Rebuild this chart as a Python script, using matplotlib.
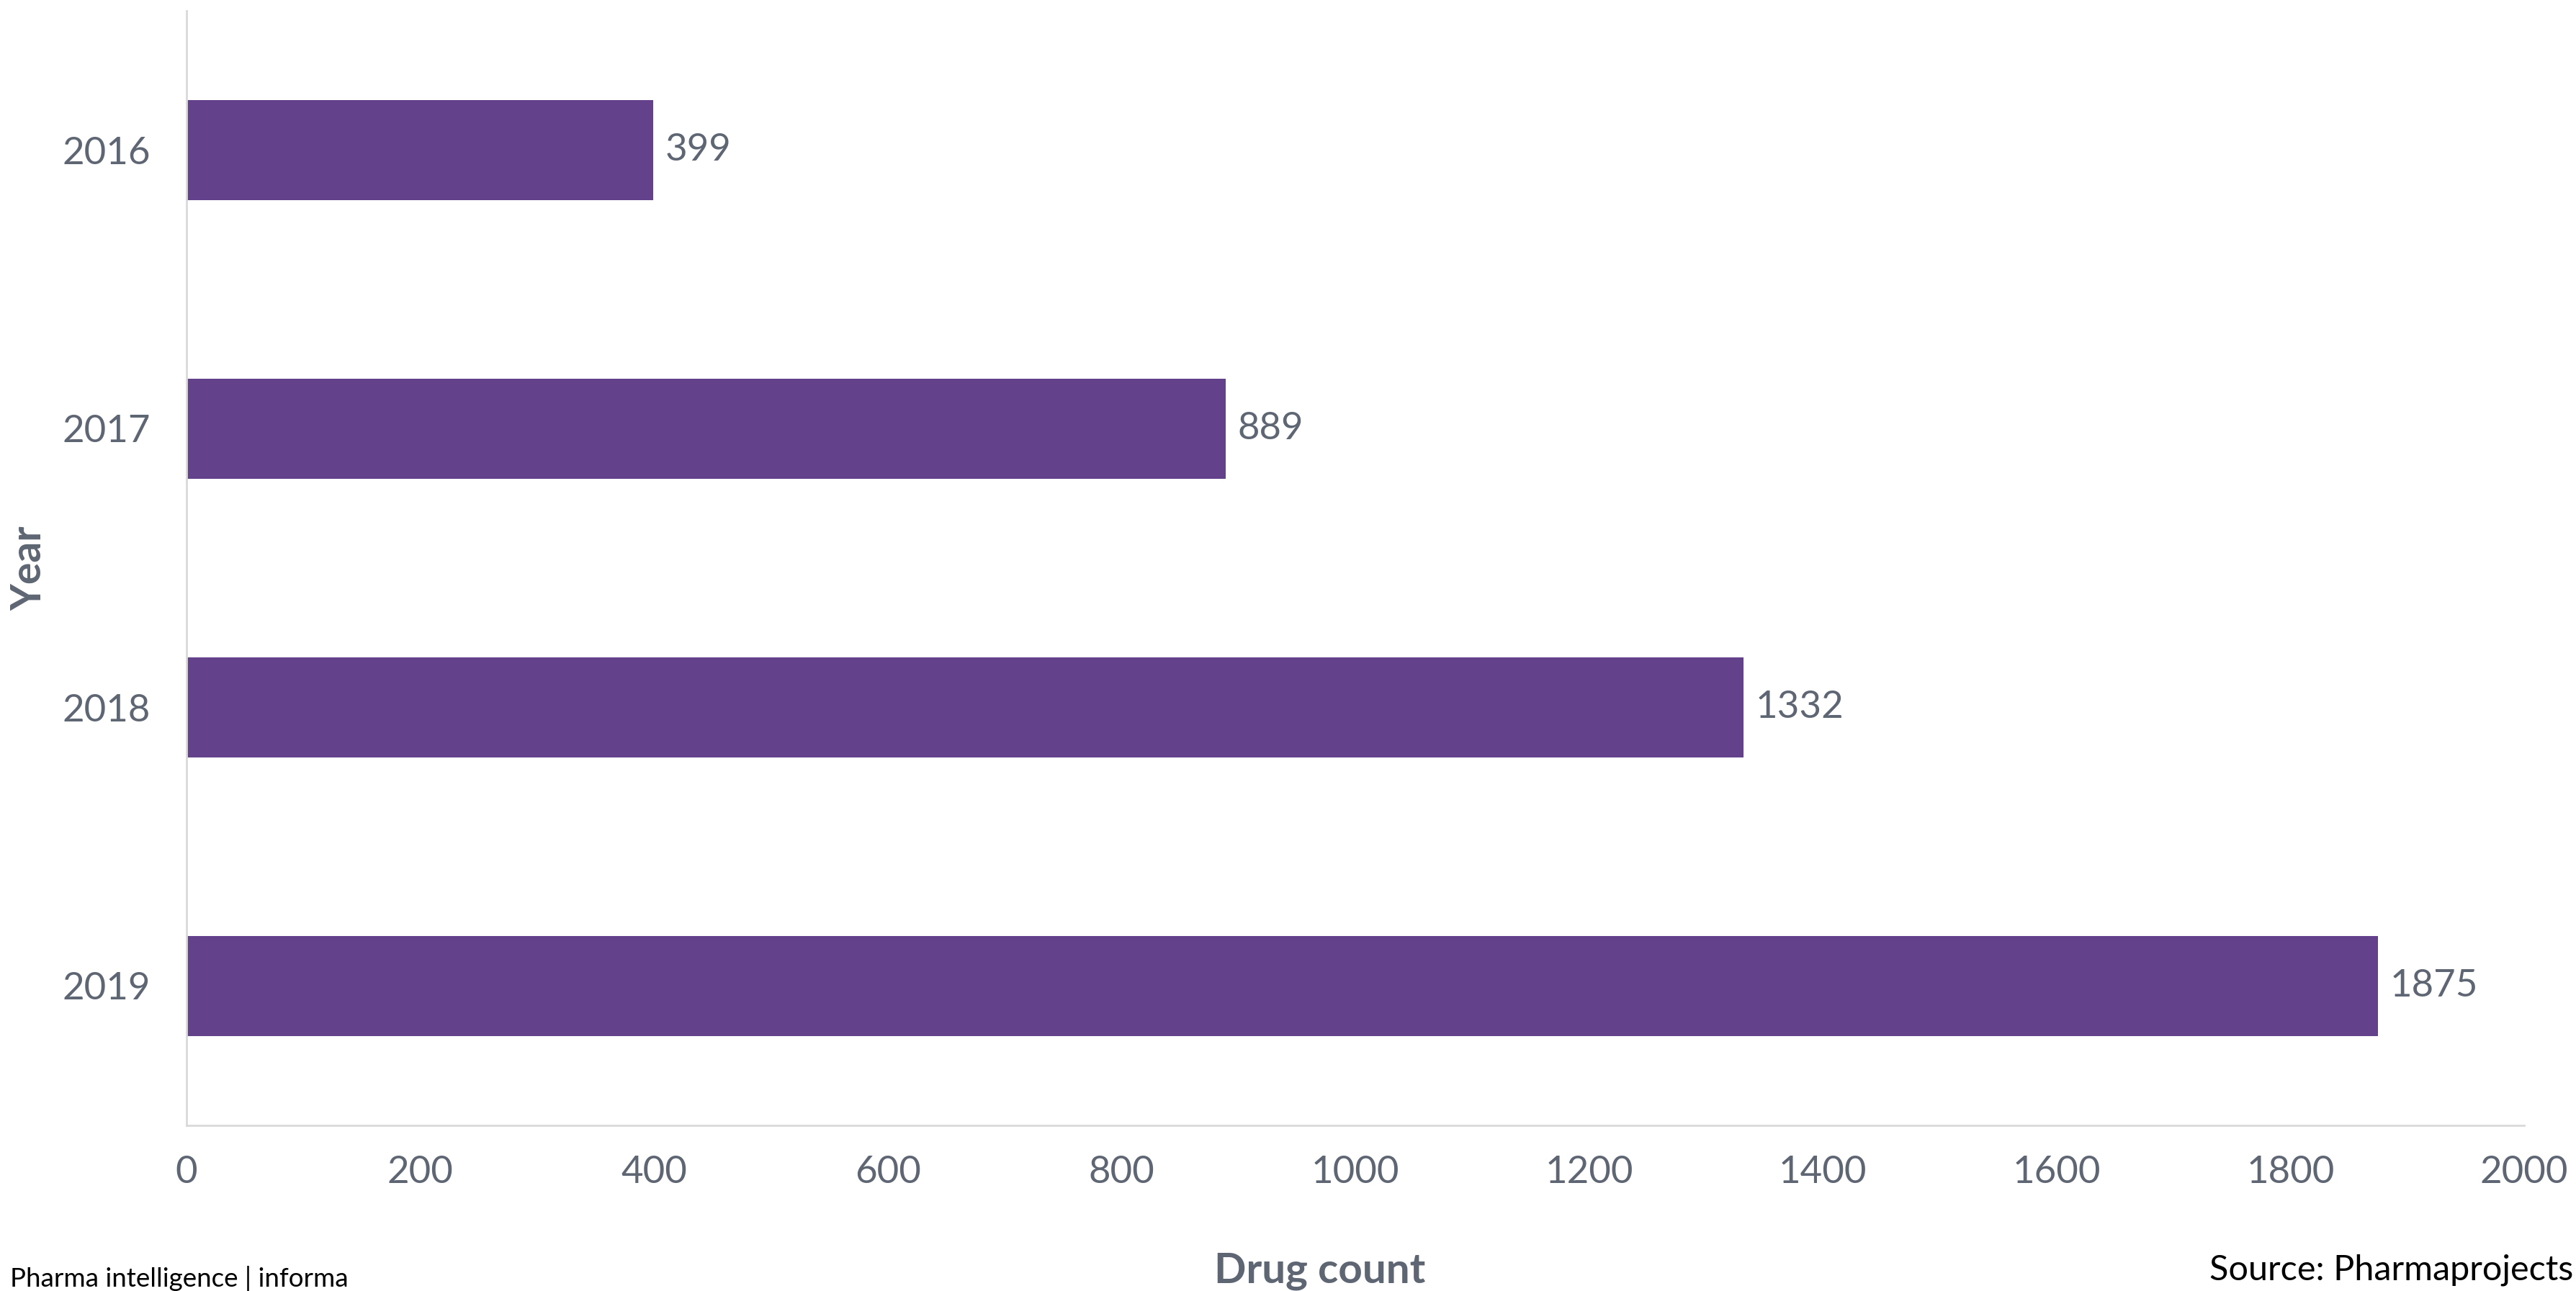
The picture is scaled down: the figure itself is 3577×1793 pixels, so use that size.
import matplotlib
matplotlib.use("Agg")
import matplotlib.pyplot as plt

years = ['2016', '2017', '2018', '2019']
drug_counts = [399, 889, 1332, 1875]
x_ticks = [0, 200, 400, 600, 800, 1000, 1200, 1400, 1600, 1800, 2000]

bar_color = '#64428B'
text_grey = '#5F6673'
line_grey = '#D9D9D9'

plt.rcParams['font.family'] = ['Lato', 'DejaVu Sans']

dpi = 100
fig = plt.figure(figsize=(3577 / dpi, 1793 / dpi), dpi=dpi)
# axes box in pixels: x 259..3505, y 15..1563 (from top)
ax = fig.add_axes([259 / 3577, 1 - 1563 / 1793, (3505 - 259) / 3577, (1563 - 15) / 1793])

pos = list(range(len(years)))
bars = ax.barh(pos, drug_counts, height=0.357, color=bar_color)
ax.bar_label(bars, labels=[str(v) for v in drug_counts], padding=12,
             fontsize=38, color=text_grey)

ax.set_ylim(len(years) - 0.5, -0.5)
ax.set_xlim(0, 2000)
ax.set_yticks(pos)
ax.set_yticklabels(years)
ax.set_xticks(x_ticks)

ax.tick_params(axis='both', length=0, labelsize=38, labelcolor=text_grey)
ax.tick_params(axis='x', pad=30)
ax.tick_params(axis='y', pad=36)

for side in ['top', 'right']:
    ax.spines[side].set_visible(False)
for side in ['left', 'bottom']:
    ax.spines[side].set_color(line_grey)
    ax.spines[side].set_linewidth(2)

fig.text(1833 / 3577, 1 - 1782 / 1793, 'Drug count', ha='center', va='baseline',
         fontsize=42, fontweight='bold', color=text_grey)
fig.text(41 / 3577, 1 - 789 / 1793, 'Year', ha='center', va='center', rotation=90,
         fontsize=41, fontweight='bold', color=text_grey)
fig.text(14 / 3577, 1 - 1787 / 1793, 'Pharma intelligence | informa', ha='left',
         va='baseline', fontsize=26.5, color='black')
fig.text(3573 / 3577, 1 - 1778 / 1793, 'Source: Pharmaprojects', ha='right',
         va='baseline', fontsize=35, color='black')

fig.savefig('out.png', dpi=dpi, facecolor='white')
